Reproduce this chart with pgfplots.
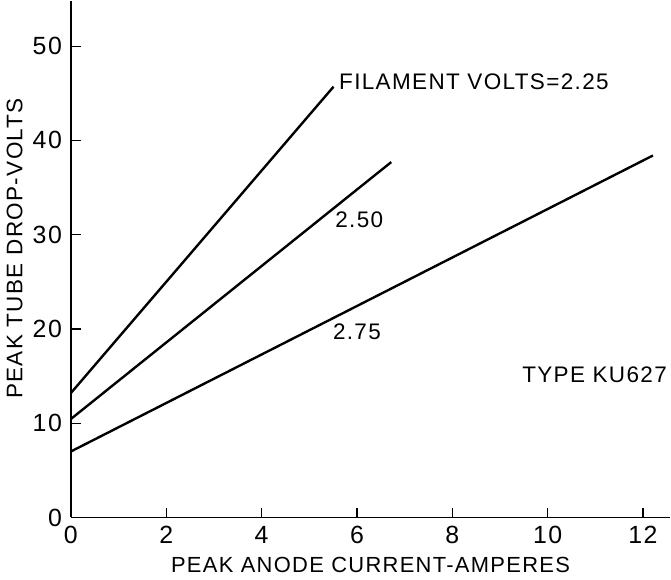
\documentclass[border=0pt]{standalone}
\usepackage{fontspec}
\setmainfont{Liberation Sans}
\newfontfamily\lettering[LetterSpace=6]{Liberation Sans}
\usepackage{pgfplots}
\pgfplotsset{compat=1.18}
\newcommand\lfont{\lettering\fontsize{11.3}{13}\selectfont}
\begin{document}
\begin{tikzpicture}
\begin{axis}[
    scale only axis,
    width=301pt, height=259.5pt,
    axis lines=left,
    axis line style={line width=0.9pt, -},
    xmin=0, xmax=12.57,
    ymin=0, ymax=54.8,
    xtick={0,2,...,12},
    ytick={0,10,...,50},
    tick align=inside,
    major tick length=5pt,
    tick style={line width=0.6pt, black},
    /pgf/number format/assume math mode=true,
    tick label style={font=\lettering\fontsize{12.5}{14}\selectfont},
    xticklabel style={yshift=-1pt},
    yticklabel style={xshift=-1pt},
    xlabel={PEAK ANODE CURRENT-AMPERES},
    ylabel={PEAK TUBE DROP-VOLTS},
    xlabel style={font=\lettering\fontsize{11}{13}\selectfont, at={(axis description cs:0.5,0)}, anchor=center, yshift=-24pt},
    ylabel style={font=\lfont, at={(axis description cs:-0.094,0.52)}, anchor=center, rotate=0},
    clip=false,
]
\addplot[black, line width=1.2pt] coordinates {(0,13.2) (5.51,45.7)};
\addplot[black, line width=1.2pt] coordinates {(0,10.45) (6.72,37.7)};
\addplot[black, line width=1.2pt] coordinates {(0,7.0) (12.21,38.4)};
\node[anchor=west, font=\lfont, inner sep=0pt] at (axis cs:5.62,46.2) {FILAMENT VOLTS=2.25};
\node[font=\lfont, inner sep=0pt] at (axis cs:6.05,31.6) {2.50};
\node[font=\lfont, inner sep=0pt] at (axis cs:6.0,19.7) {2.75};
\node[anchor=west, font=\lfont, inner sep=0pt] at (axis cs:9.46,15.1) {TYPE KU627};
\end{axis}
\end{tikzpicture}
\end{document}
